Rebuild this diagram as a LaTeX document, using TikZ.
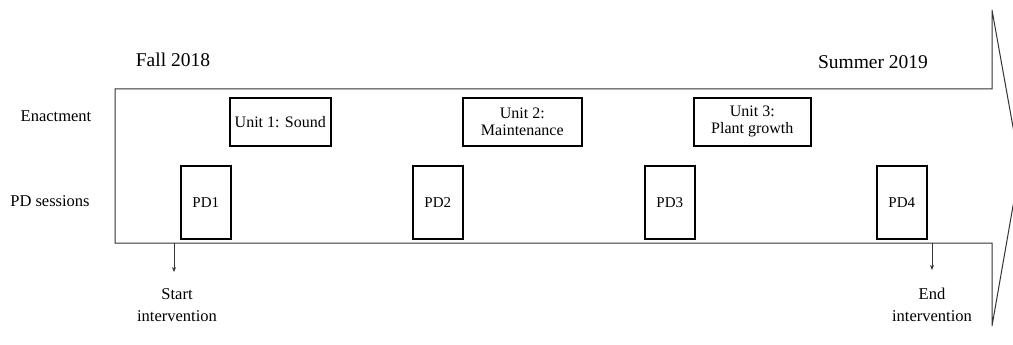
\documentclass[tikz,border=0pt]{standalone}
\usepackage{fontspec}
\setmainfont{Liberation Serif}
\usetikzlibrary{arrows.meta}
\begin{document}
\begin{tikzpicture}[x=1pt,y=-1pt,
  outline/.style={draw=black!80,line width=1pt},
  unitbox/.style={draw=black,line width=1.6pt,inner sep=0pt,align=center,font=\fontsize{16}{17}\selectfont,anchor=north west},
  pdbox/.style={draw=black,line width=1.6pt,inner sep=0pt,minimum width=50pt,minimum height=73pt,font=\fontsize{15}{16}\selectfont,anchor=north west},
  lbl/.style={font=\fontsize{16.5}{22}\selectfont,align=center},
  ttl/.style={font=\fontsize{19.5}{22}\selectfont},
  ptr/.style={draw=black!80,line width=0.8pt,-{Stealth[length=5pt,width=4pt]}}]
\useasboundingbox (0,0) rectangle (1013,345);
\begin{scope}
\clip (0,0) rectangle (1013,345);
\draw[outline,line join=miter] (115,89) -- (992,89) -- (992,10) -- (1020,166) -- (992,326) -- (992,243) -- (115,243) -- cycle;
\end{scope}
\node[ttl] (fall) at (173,60) {Fall 2018};
\node[ttl] (summer) at (873,62) {Summer 2019};
\node[lbl] (enact) at (56,116) {Enactment};
\node[lbl] (pds) at (50,201) {PD sessions};
\node[unitbox,minimum width=101pt,minimum height=48pt] (u1) at (229,97) {Unit 1: Sound};
\node[unitbox,minimum width=119pt,minimum height=48pt] (u2) at (462,97) {Unit 2:\\Maintenance};
\node[unitbox,minimum width=117pt,minimum height=48pt] (u3) at (693,97) {Unit 3:\\Plant growth};
\node[pdbox] (pd1) at (180,165) {PD1};
\node[pdbox] (pd2) at (412,165) {PD2};
\node[pdbox] (pd3) at (644,165) {PD3};
\node[pdbox] (pd4) at (876,165) {PD4};
\coordinate (s0) at (174,243);
\coordinate (s1) at (174,272);
\coordinate (e0) at (932,243);
\coordinate (e1) at (932,270);
\draw[ptr] (s0) -- (s1);
\draw[ptr] (e0) -- (e1);
\node[lbl] (start) at (177,305) {Start\\intervention};
\node[lbl] (endi) at (932,305) {End\\intervention};
\end{tikzpicture}
\end{document}
